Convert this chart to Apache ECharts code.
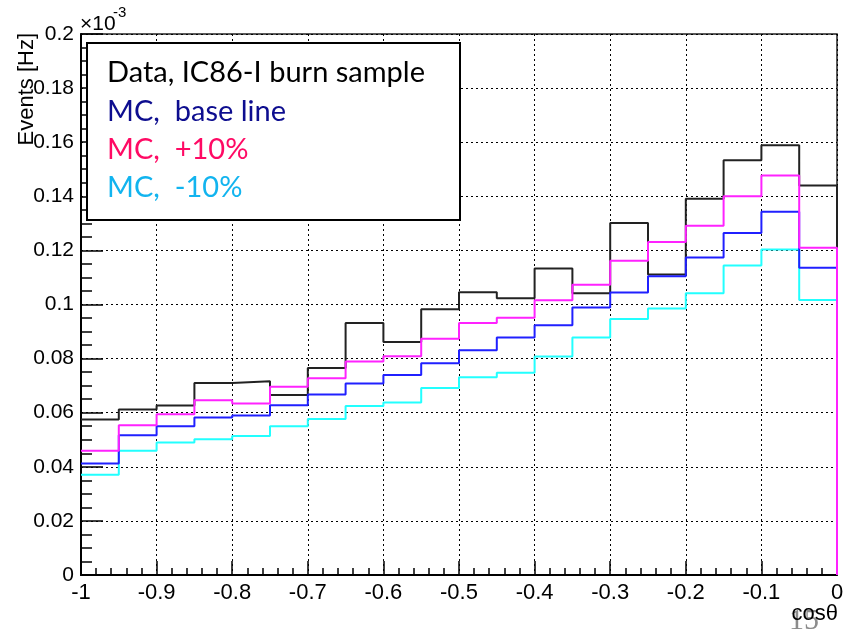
<!DOCTYPE html>
<html>
<head>
<meta charset="utf-8">
<style>
  html, body { margin: 0; padding: 0; background: #fff; }
  #chart { width: 851px; height: 632px; }
</style>
<script src="https://cdn.jsdelivr.net/npm/echarts@6/dist/echarts.min.js"></script>
</head>
<body>
<div id="chart"></div>
<script>
// Bin edges in cos(theta): 20 bins of width 0.05 from -1 to 0
var binLow = [-1, -0.95, -0.9, -0.85, -0.8, -0.75, -0.7, -0.65, -0.6, -0.55,
              -0.5, -0.45, -0.4, -0.35, -0.3, -0.25, -0.2, -0.15, -0.1, -0.05];
var binEnd = 0;

// Event rates per bin, in units of 1e-3 Hz
var dataBurn = [0.0575, 0.0612, 0.0627, 0.0710, 0.0716, 0.0665, 0.0765, 0.0932, 0.0861, 0.0982,
                0.1045, 0.1023, 0.1133, 0.1042, 0.1301, 0.1111, 0.1391, 0.1533, 0.1589, 0.1440];
var mcBase   = [0.0412, 0.0517, 0.0550, 0.0582, 0.0590, 0.0628, 0.0667, 0.0708, 0.0739, 0.0783,
                0.0831, 0.0878, 0.0923, 0.0989, 0.1044, 0.1104, 0.1174, 0.1264, 0.1343, 0.1136];
var mcPlus10 = [0.0459, 0.0554, 0.0594, 0.0646, 0.0634, 0.0696, 0.0727, 0.0789, 0.0809, 0.0873,
                0.0932, 0.0951, 0.1016, 0.1073, 0.1162, 0.1231, 0.1291, 0.1400, 0.1477, 0.1210];
var mcMinus10= [0.0371, 0.0459, 0.0490, 0.0502, 0.0514, 0.0550, 0.0577, 0.0625, 0.0638, 0.0691,
                0.0731, 0.0748, 0.0808, 0.0878, 0.0946, 0.0985, 0.1042, 0.1144, 0.1203, 0.1017];

var legendLines = ['Data, IC86-I burn sample', 'MC,  base line', 'MC,  +10%', 'MC,  -10%'];
var legendColors = ['#000000', '#0d0d8f', '#ff0a64', '#12b4ef'];

// Histogram outline: step across the bins, then drop to zero at the last edge
function histOutline(values) {
  var pts = [];
  for (var i = 0; i < values.length; i++) pts.push([binLow[i], values[i]]);
  pts.push([binEnd, values[values.length - 1]]);
  pts.push([binEnd, 0]);
  return pts;
}

function histSeries(name, values, color) {
  return {
    name: name,
    type: 'line',
    step: 'end',
    data: histOutline(values),
    symbol: 'none',
    clip: false,
    lineStyle: { color: color, width: 2 },
    emphasis: { disabled: true }
  };
}

var axisFont = 'Liberation Sans, Arial, sans-serif';
var legendFont = 'Lato, sans-serif';

var chart = echarts.init(document.getElementById('chart'), null, { renderer: 'canvas' });

var legendGraphics = [{
  type: 'rect',
  z: 100,
  shape: { x: 87, y: 43, width: 373, height: 177 },
  style: { fill: '#ffffff', stroke: '#000000', lineWidth: 2 }
}];
var rowCenters = [73, 112, 150, 188];
legendLines.forEach(function (t, i) {
  legendGraphics.push({
    type: 'text',
    z: 101,
    x: 107,
    y: rowCenters[i],
    style: {
      text: t,
      fill: legendColors[i],
      fontFamily: legendFont,
      fontSize: 29,
      verticalAlign: 'middle'
    }
  });
});

chart.setOption({
  animation: false,
  backgroundColor: '#ffffff',
  grid: {
    left: 81, right: 14, top: 34, bottom: 57,
    show: true, borderColor: '#222222', borderWidth: 1.5, backgroundColor: 'transparent'
  },
  xAxis: {
    type: 'value',
    min: -1, max: 0, interval: 0.1,
    axisLine: { show: true, onZero: false, lineStyle: { color: '#000', width: 2 } },
    axisTick: { show: true, inside: true, length: 14, lineStyle: { color: '#000', width: 1.5 } },
    minorTick: { show: true, splitNumber: 5, length: 7, lineStyle: { color: '#000', width: 1.5 } },
    splitLine: { show: true, lineStyle: { color: '#000', width: 1, type: [2, 3] } },
    axisLabel: {
      color: '#000', fontFamily: axisFont, fontSize: 22, margin: 7,
      formatter: function (v) { return String(parseFloat(v.toFixed(2))); }
    }
  },
  yAxis: {
    type: 'value',
    min: 0, max: 0.2, interval: 0.02,
    axisLine: { show: true, onZero: false, lineStyle: { color: '#000', width: 2 } },
    axisTick: { show: true, inside: true, length: 22, lineStyle: { color: '#000', width: 1.5 } },
    minorTick: { show: true, splitNumber: 4, length: 11, lineStyle: { color: '#000', width: 1.5 } },
    splitLine: { show: true, lineStyle: { color: '#000', width: 1, type: [2, 3] } },
    axisLabel: {
      color: '#000', fontFamily: axisFont, fontSize: 21, margin: 7,
      formatter: function (v) { return String(parseFloat(v.toFixed(3))); }
    }
  },
  series: [
    histSeries('Data, IC86-I burn sample', dataBurn, '#222222'),
    histSeries('MC, -10%', mcMinus10, '#22ffff'),
    histSeries('MC, base line', mcBase, '#2020ff'),
    histSeries('MC, +10%', mcPlus10, '#ff22ff')
  ],
  graphic: legendGraphics.concat([
    {
      type: 'text', z: 50, x: 80, y: 24,
      style: { text: '×10', fill: '#000', fontFamily: axisFont, fontSize: 21, verticalAlign: 'middle' }
    },
    {
      type: 'text', z: 50, x: 113, y: 13,
      style: { text: '-3', fill: '#000', fontFamily: axisFont, fontSize: 15, verticalAlign: 'middle' }
    },
    {
      type: 'text', z: 50, x: 27, y: 33, rotation: Math.PI / 2,
      style: {
        text: 'Events [Hz]', fill: '#000', fontFamily: axisFont, fontSize: 22,
        align: 'right', verticalAlign: 'middle'
      }
    },
    {
      type: 'text', z: 40, x: 789, y: 636,
      style: { text: '15', fill: '#8c8c8c', fontFamily: 'Liberation Serif, DejaVu Serif, serif', fontSize: 30, verticalAlign: 'bottom' }
    },
    {
      type: 'text', z: 50, x: 838, y: 614,
      style: { text: 'cosθ', fill: '#000', fontFamily: axisFont, fontSize: 22, align: 'right', verticalAlign: 'middle' }
    }
  ])
});
</script>
</body>
</html>
